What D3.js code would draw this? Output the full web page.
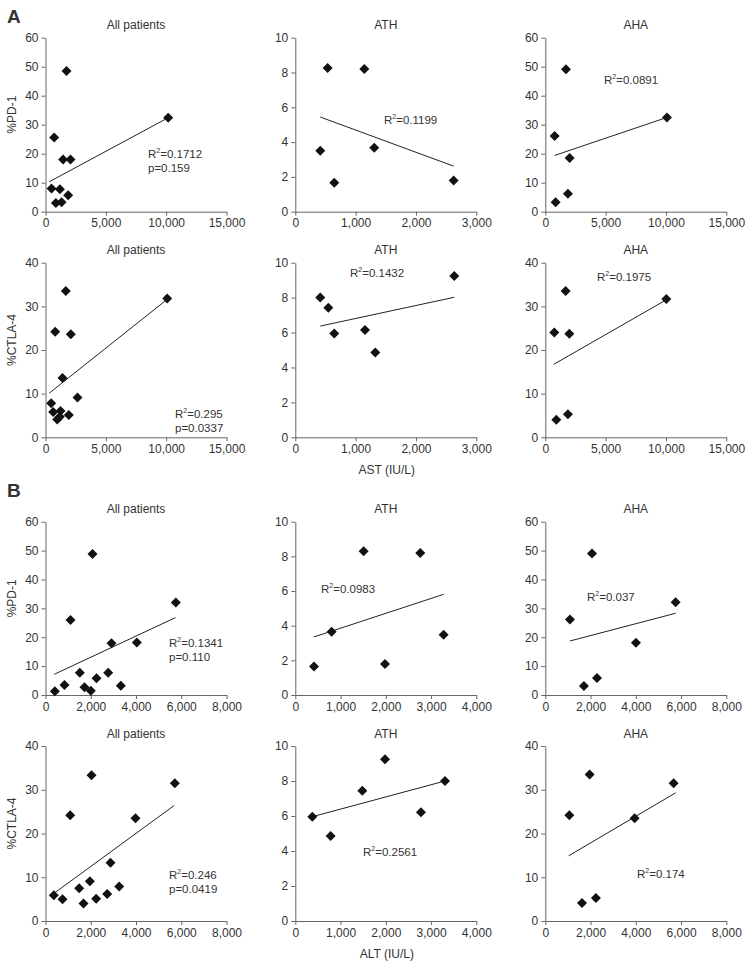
<!DOCTYPE html>
<html><head><meta charset="utf-8">
<script src="https://cdn.jsdelivr.net/npm/d3@7"></script>
<style>
html,body{margin:0;padding:0;background:#fff;}
svg{display:block;}
text{font-family:"Liberation Sans",Arial,sans-serif;fill:#333;}
</style></head>
<body>
<svg id="chart" width="752" height="969"></svg>
<script>
// ---------- DATA ----------
const columnTitles = ["All patients", "ATH", "AHA"];
const yTitles = ["%PD-1", "%CTLA-4", "%PD-1", "%CTLA-4"];
const xTitles = ["AST (IU/L)", "ALT (IU/L)"];
const sectionLabels = ["A", "B"];

// x-axis ranges / ticks
const astWideTicks = [0, 5000, 10000, 15000];
const astAthTicks = [0, 1000, 2000, 3000];
const altWideTicks = [0, 2000, 4000, 6000, 8000];
const altAthTicks = [0, 1000, 2000, 3000, 4000];
// y-axis ticks
const pd1WideTicks = [0, 10, 20, 30, 40, 50, 60];
const ctlaWideTicks = [0, 10, 20, 30, 40];
const athTicks = [0, 2, 4, 6, 8, 10];

// points [x, y]
const astPd1All = [[1740,48.5],[720,25.6],[1460,18.0],[2070,18.0],[10170,32.4],[500,8.0],[1190,7.7],[1880,5.7],[860,3.0],[1330,3.3]];
const astPd1Ath = [[536,8.26],[1144,8.2],[414,3.51],[1309,3.68],[646,1.67],[2624,1.8]];
const astPd1Aha = [[1713,49.1],[773,26.1],[2017,18.5],[10083,32.5],[856,3.3],[1878,6.2]];
const astCtlaAll = [[1685,33.5],[801,24.2],[2099,23.6],[10083,31.8],[1409,13.6],[2652,9.1],[470,7.8],[635,5.8],[1243,6.0],[1934,5.1],[967,4.1],[1188,4.7]];
const astCtlaAth = [[414,8.0],[547,7.42],[646,5.95],[1155,6.15],[1326,4.85],[2635,9.24]];
const astCtlaAha = [[1685,33.5],[746,24.0],[1989,23.7],[10028,31.7],[912,4.0],[1878,5.3]];
const altPd1All = [[2077,48.8],[1105,26.0],[5761,32.0],[2917,17.9],[4037,18.2],[1517,7.7],[2770,7.7],[840,3.5],[2254,5.8],[1724,2.65],[2004,1.5],[3330,3.2],[413,1.3]];
const altPd1Ath = [[1510,8.29],[2762,8.19],[803,3.65],[3278,3.48],[413,1.65],[1982,1.79]];
const altPd1Aha = [[2063,49.0],[1090,26.1],[5761,32.1],[4007,18.1],[2284,5.9],[1709,3.1]];
const altCtlaAll = [[2033,33.3],[1090,24.2],[5716,31.5],[3978,23.5],[2873,13.3],[1488,7.5],[1960,9.1],[3256,7.9],[368,5.9],[751,4.95],[1680,4.0],[2239,5.1],[2726,6.2]];
const altCtlaAth = [[1982,9.24],[1481,7.45],[3308,8.0],[376,5.96],[2777,6.21],[781,4.86]];
const altCtlaAha = [[1960,33.5],[1061,24.15],[5672,31.5],[3948,23.5],[1621,4.1],[2239,5.25]];

// trend line endpoints [x, y]
const trendAstPd1All = [[300,10.3],[10170,32.4]];
const trendAstPd1Ath = [[414,5.44],[2624,2.62]];
const trendAstPd1Aha = [[773,19.4],[10083,32.5]];
const trendAstCtlaAll = [[304,10.1],[10083,31.6]];
const trendAstCtlaAth = [[414,6.37],[2635,8.02]];
const trendAstCtlaAha = [[691,16.7],[10028,31.5]];
const trendAltPd1All = [[383,7.15],[5746,26.8]];
const trendAltPd1Ath = [[413,3.35],[3278,5.81]];
const trendAltPd1Aha = [[1090,18.7],[5761,28.3]];
const trendAltCtlaAll = [[368,6.3],[5687,26.4]];
const trendAltCtlaAth = [[376,5.96],[3308,8.0]];
const trendAltCtlaAha = [[1031,14.9],[5761,29.3]];

// statistics
const r2Values = ["0.1712","0.1199","0.0891","0.295","0.1432","0.1975","0.1341","0.0983","0.037","0.246","0.2561","0.174"];
const pValues = ["0.159",null,null,"0.0337",null,null,"0.110",null,null,"0.0419",null,null];

// ---------- LAYOUT ----------
const colLeft = [45.5, 295.3, 545.3];
const plotW = 181;
const rowTop = [37.7, 262.7, 521.7, 746];
const rowBottom = [211.7, 437.3, 695, 921];
const labelPos = [[148,158],[384,124],[604,84],[175,418],[350,277],[597,281],
                  [169,647],[321,593],[587,601],[169,879],[363,856],[637,878]];
const lineGap = 13.5;

const panels = [
  {pts: astPd1All, tr: trendAstPd1All, xt: astWideTicks, yt: pd1WideTicks},
  {pts: astPd1Ath, tr: trendAstPd1Ath, xt: astAthTicks, yt: athTicks},
  {pts: astPd1Aha, tr: trendAstPd1Aha, xt: astWideTicks, yt: pd1WideTicks},
  {pts: astCtlaAll, tr: trendAstCtlaAll, xt: astWideTicks, yt: ctlaWideTicks},
  {pts: astCtlaAth, tr: trendAstCtlaAth, xt: astAthTicks, yt: athTicks},
  {pts: astCtlaAha, tr: trendAstCtlaAha, xt: astWideTicks, yt: ctlaWideTicks},
  {pts: altPd1All, tr: trendAltPd1All, xt: altWideTicks, yt: pd1WideTicks},
  {pts: altPd1Ath, tr: trendAltPd1Ath, xt: altAthTicks, yt: athTicks},
  {pts: altPd1Aha, tr: trendAltPd1Aha, xt: altWideTicks, yt: pd1WideTicks},
  {pts: altCtlaAll, tr: trendAltCtlaAll, xt: altWideTicks, yt: ctlaWideTicks},
  {pts: altCtlaAth, tr: trendAltCtlaAth, xt: altAthTicks, yt: athTicks},
  {pts: altCtlaAha, tr: trendAltCtlaAha, xt: altWideTicks, yt: ctlaWideTicks}
];

const svg = d3.select("#chart");
const FS = 12;
const statFS = 11.5;
const axisColor = "#666";
const fmt = d3.format(",");
const diamond = "M0,-5L5,0L0,5L-5,0Z";

panels.forEach((p, i) => {
  const row = Math.floor(i / 3), col = i % 3;
  const left = colLeft[col], top = rowTop[row], bottom = rowBottom[row];
  const x = d3.scaleLinear().domain([p.xt[0], p.xt[p.xt.length-1]]).range([left, left + plotW]);
  const y = d3.scaleLinear().domain([p.yt[0], p.yt[p.yt.length-1]]).range([bottom, top]);

  const gx = svg.append("g").attr("transform", `translate(0,${bottom})`)
    .call(d3.axisBottom(x).tickValues(p.xt).tickFormat(fmt).tickSize(4).tickPadding(3).tickSizeOuter(0));
  const gy = svg.append("g").attr("transform", `translate(${left},0)`)
    .call(d3.axisLeft(y).tickValues(p.yt).tickSize(4).tickPadding(3).tickSizeOuter(0));
  [gx, gy].forEach(g => {
    g.selectAll("path,line").attr("stroke", axisColor).attr("stroke-width", 1);
    g.selectAll("text").attr("font-size", FS).attr("fill", "#333")
      .attr("font-family", '"Liberation Sans",Arial,sans-serif');
  });

  // title
  svg.append("text").attr("x", left + plotW / 2).attr("y", top - 8.5)
    .attr("text-anchor", "middle").attr("font-size", FS).text(columnTitles[col]);

  // trend line
  svg.append("line")
    .attr("x1", x(p.tr[0][0])).attr("y1", y(p.tr[0][1]))
    .attr("x2", x(p.tr[1][0])).attr("y2", y(p.tr[1][1]))
    .attr("stroke", "#222").attr("stroke-width", 1);

  // points
  svg.append("g").selectAll("path").data(p.pts).join("path")
    .attr("d", diamond)
    .attr("transform", d => `translate(${x(d[0])},${y(d[1])})`)
    .attr("fill", "#111");

  // stats text
  const [lx, ly] = labelPos[i];
  const t = svg.append("text").attr("x", lx).attr("y", ly).attr("font-size", statFS);
  t.append("tspan").text("R");
  t.append("tspan").attr("font-size", 7).attr("dy", -5).text("2");
  t.append("tspan").attr("dy", 5).text("=" + r2Values[i]);
  if (pValues[i]) {
    svg.append("text").attr("x", lx).attr("y", ly + lineGap).attr("font-size", statFS)
      .text("p=" + pValues[i]);
  }

  // y title
  if (col === 0) {
    svg.append("text")
      .attr("transform", `translate(16,${(top + bottom) / 2 - 10}) rotate(-90)`)
      .attr("text-anchor", "middle").attr("font-size", FS).text(yTitles[row]);
  }
  // x title
  if (col === 1 && (row === 1 || row === 3)) {
    svg.append("text").attr("x", left + plotW / 2 + 1).attr("y", bottom + 37)
      .attr("text-anchor", "middle").attr("font-size", FS).text(xTitles[row === 1 ? 0 : 1]);
  }
});

// section labels
svg.append("text").attr("x", 7).attr("y", 23).attr("font-size", 19).attr("font-weight", "bold")
  .attr("fill", "#111").text(sectionLabels[0]);
svg.append("text").attr("x", 7).attr("y", 497).attr("font-size", 19).attr("font-weight", "bold")
  .attr("fill", "#111").text(sectionLabels[1]);
</script>
</body></html>
